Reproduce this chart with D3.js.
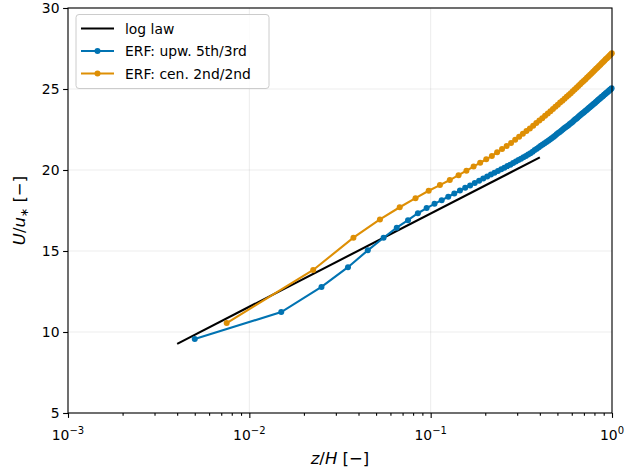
<!DOCTYPE html>
<html>
<head>
<meta charset="utf-8">
<script src="https://cdn.jsdelivr.net/npm/d3@7"></script>
<style>
  html, body { margin: 0; padding: 0; background: #fff; }
  svg { display: block; font-family: "DejaVu Sans", sans-serif; }
</style>
</head>
<body>
<svg id="chart" width="626" height="473"></svg>
<script>
// ---------------- data ----------------
const seriesNames = ["log law", "ERF: upw. 5th/3rd", "ERF: cen. 2nd/2nd"];

const logLawZ = [0.004, 0.4];
const logLawU = [9.27, 20.78];

const upwZ = [0.005,0.015,0.025,0.035,0.045,0.055,0.065,0.075,0.085,0.095,
  0.105,0.115,0.125,0.135,0.145,0.155,0.165,0.175,0.185,0.195,
  0.205,0.215,0.225,0.235,0.245,0.255,0.265,0.275,0.285,0.295,
  0.305,0.315,0.325,0.335,0.345,0.355,0.365,0.375,0.385,0.395,
  0.405,0.415,0.425,0.435,0.445,0.455,0.465,0.475,0.485,0.495,
  0.505,0.515,0.525,0.535,0.545,0.555,0.565,0.575,0.585,0.595,
  0.605,0.615,0.625,0.635,0.645,0.655,0.665,0.675,0.685,0.695,
  0.705,0.715,0.725,0.735,0.745,0.755,0.765,0.775,0.785,0.795,
  0.805,0.815,0.825,0.835,0.845,0.855,0.865,0.875,0.885,0.895,
  0.905,0.915,0.925,0.935,0.945,0.955,0.965,0.975,0.985,0.995];
const upwU = [9.57,11.23,12.78,14.00,15.04,15.82,16.44,16.90,17.33,17.65,
  17.91,18.14,18.35,18.55,18.73,18.90,19.05,19.20,19.34,19.47,
  19.60,19.72,19.83,19.94,20.04,20.14,20.24,20.33,20.43,20.52,
  20.62,20.70,20.79,20.87,20.96,21.04,21.13,21.23,21.31,21.40,
  21.49,21.57,21.65,21.73,21.81,21.88,21.96,22.04,22.12,22.20,
  22.28,22.35,22.43,22.50,22.57,22.64,22.70,22.77,22.84,22.90,
  22.97,23.04,23.11,23.17,23.23,23.30,23.36,23.42,23.48,23.54,
  23.60,23.65,23.71,23.76,23.82,23.87,23.93,23.98,24.04,24.09,
  24.14,24.20,24.25,24.30,24.35,24.40,24.45,24.50,24.54,24.59,
  24.64,24.68,24.73,24.77,24.82,24.86,24.91,24.95,24.99,25.04];

const cenZ = [0.0075,0.0225,0.0375,0.0525,0.0675,0.0825,0.0975,0.1125,0.1275,0.1425,
  0.1575,0.1725,0.1875,0.2025,0.2175,0.2325,0.2475,0.2625,0.2775,0.2925,
  0.3075,0.3225,0.3375,0.3525,0.3675,0.3825,0.3975,0.4125,0.4275,0.4425,
  0.4575,0.4725,0.4875,0.5025,0.5175,0.5325,0.5475,0.5625,0.5775,0.5925,
  0.6075,0.6225,0.6375,0.6525,0.6675,0.6825,0.6975,0.7125,0.7275,0.7425,
  0.7575,0.7725,0.7875,0.8025,0.8175,0.8325,0.8475,0.8625,0.8775,0.8925,
  0.9075,0.9225,0.9375,0.9525,0.9675,0.9825,0.9975];
const cenU = [10.55,13.83,15.82,16.95,17.70,18.26,18.72,19.07,19.38,19.68,
  19.96,20.21,20.45,20.66,20.87,21.09,21.29,21.48,21.67,21.86,
  22.05,22.23,22.40,22.56,22.73,22.90,23.05,23.20,23.35,23.49,
  23.62,23.76,23.90,24.03,24.16,24.28,24.40,24.52,24.63,24.74,
  24.86,24.97,25.08,25.19,25.29,25.40,25.50,25.59,25.69,25.79,
  25.88,25.97,26.07,26.16,26.25,26.33,26.42,26.50,26.59,26.67,
  26.75,26.83,26.90,26.98,27.05,27.13,27.20];

const xTicks = [0.001, 0.01, 0.1, 1];
const xTickExponents = ["\u22123", "\u22122", "\u22121", "0"];
const yTicks = [5, 10, 15, 20, 25, 30];
const colors = ["#000000", "#0173B2", "#DE8F05"];

// ---------------- layout ----------------
const svg = d3.select("#chart");
const L = 68, R = 612, T = 8, B = 413;
const x = d3.scaleLog().domain([1e-3, 1]).range([L, R]);
const y = d3.scaleLinear().domain([5, 30]).range([B, T]);
const FS = 13.9;

// grid
const grid = svg.append("g");
grid.selectAll("line.gx").data(xTicks).join("line")
  .attr("x1", d => x(d)).attr("x2", d => x(d)).attr("y1", T).attr("y2", B)
  .attr("stroke", "#b0b0b0").attr("stroke-opacity", 0.3).attr("stroke-width", 0.8);
grid.selectAll("line.gy").data(yTicks).join("line")
  .attr("y1", d => y(d)).attr("y2", d => y(d)).attr("x1", L).attr("x2", R)
  .attr("stroke", "#b0b0b0").attr("stroke-opacity", 0.3).attr("stroke-width", 0.8);

// data
const plot = svg.append("g");
const line = d3.line().x(d => x(d[0])).y(d => y(d[1]));
const logLaw = logLawZ.map((z, i) => [z, logLawU[i]]);
const upw = upwZ.map((z, i) => [z, upwU[i]]);
const cen = cenZ.map((z, i) => [z, cenU[i]]);

plot.append("path").datum(logLaw).attr("d", line)
  .attr("fill", "none").attr("stroke", colors[0]).attr("stroke-width", 2.1);

[[upw, colors[1]], [cen, colors[2]]].forEach(([data, c]) => {
  plot.append("path").datum(data).attr("d", line)
    .attr("fill", "none").attr("stroke", c).attr("stroke-width", 2.1);
  plot.selectAll(null).data(data).join("circle")
    .attr("cx", d => x(d[0])).attr("cy", d => y(d[1])).attr("r", 3)
    .attr("fill", c);
});

// axes
const axB = svg.append("g").attr("transform", `translate(0,${B})`)
  .call(d3.axisBottom(x).tickValues(xTicks).tickSize(4.9).tickFormat(""));
const minor = x.ticks().filter(v => !xTicks.includes(v));
svg.append("g").attr("transform", `translate(0,${B})`)
  .call(d3.axisBottom(x).tickValues(minor).tickSize(2.8).tickFormat(""))
  .call(g => g.select(".domain").remove());
const axL = svg.append("g").attr("transform", `translate(${L},0)`)
  .call(d3.axisLeft(y).tickValues(yTicks).tickSize(4.9).tickFormat(""));
svg.selectAll(".tick line").attr("stroke", "#000").attr("stroke-width", 1.1);
svg.selectAll(".domain").remove();

// frame
svg.append("rect").attr("x", L).attr("y", T).attr("width", R - L).attr("height", B - T)
  .attr("fill", "none").attr("stroke", "#000").attr("stroke-width", 1.1);

// tick labels
const xl = svg.append("g");
xTicks.forEach((v, i) => {
  const t = xl.append("text").attr("x", x(v)).attr("y", 440)
    .attr("text-anchor", "middle").attr("font-size", FS).attr("fill", "#000");
  t.append("tspan").text("10");
  t.append("tspan").attr("dy", -6).attr("font-size", FS * 0.72).text(xTickExponents[i]);
});
svg.append("g").selectAll("text").data(yTicks).join("text")
  .attr("x", L - 8.5).attr("y", d => y(d)).attr("dy", "0.36em")
  .attr("text-anchor", "end").attr("font-size", FS).attr("fill", "#000")
  .text(d => d);

// axis labels
const xlab = svg.append("text").attr("x", (L + R) / 2).attr("y", 464)
  .attr("text-anchor", "middle").attr("font-size", 16.5).attr("fill", "#000");
xlab.append("tspan").attr("font-style", "italic").text("z");
xlab.append("tspan").text("/");
xlab.append("tspan").attr("font-style", "italic").text("H");
xlab.append("tspan").text(" [\u2212]");

const ylab = svg.append("text")
  .attr("transform", `translate(25,${(T + B) / 2}) rotate(-90)`)
  .attr("text-anchor", "middle").attr("font-size", 16.5).attr("fill", "#000");
ylab.append("tspan").attr("font-style", "italic").text("U");
ylab.append("tspan").text("/");
ylab.append("tspan").attr("font-style", "italic").text("u");
ylab.append("tspan").attr("dy", 3).attr("font-size", 11).text("\u2217");
ylab.append("tspan").attr("dy", -3).text(" [\u2212]");

// legend
const lg = svg.append("g");
lg.append("rect").attr("x", 76).attr("y", 14.5).attr("width", 193).attr("height", 74)
  .attr("rx", 3).attr("fill", "#fff").attr("fill-opacity", 0.8)
  .attr("stroke", "#cccccc").attr("stroke-width", 1);
const rowsY = [28.5, 51, 73.5];
seriesNames.forEach((name, i) => {
  lg.append("line").attr("x1", 81).attr("x2", 114).attr("y1", rowsY[i]).attr("y2", rowsY[i])
    .attr("stroke", colors[i]).attr("stroke-width", 2.1);
  if (i > 0) lg.append("circle").attr("cx", 97.5).attr("cy", rowsY[i]).attr("r", 3).attr("fill", colors[i]);
  lg.append("text").attr("x", 125).attr("y", rowsY[i]).attr("dy", "0.36em")
    .attr("font-size", FS).attr("fill", "#000").text(name);
});
</script>
</body>
</html>
